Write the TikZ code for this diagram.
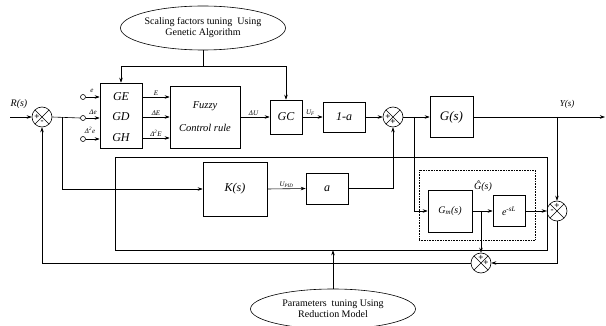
\documentclass[tikz,border=0pt]{standalone}
\usepackage{fontspec}
\setmainfont{Liberation Serif}
\usetikzlibrary{shapes.geometric,arrows.meta}
\begin{document}
\begin{tikzpicture}[x=1pt,y=-1pt,>={Stealth[length=5pt,width=3.5pt]},line width=0.6pt,
	block/.style={draw, inner sep=0pt, font=\itshape\fontsize{12}{14}\selectfont},
	sumj/.style={draw, circle, minimum size=20pt, inner sep=0pt,
		path picture={\draw[line width=0.5pt] (path picture bounding box.north west) -- (path picture bounding box.south east)
			(path picture bounding box.north east) -- (path picture bounding box.south west);}},
	sgn/.style={font=\bfseries\fontsize{9}{9}\selectfont, inner sep=0pt},
	tuner/.style={draw, ellipse, align=center, inner sep=0pt, font=\fontsize{10}{11}\selectfont},
	port/.style={draw, circle, minimum size=5pt, inner sep=0pt},
	lbl/.style={font=\itshape\fontsize{7}{8}\selectfont, inner sep=1pt}]
	\useasboundingbox (0,0) rectangle (606,326);
	
	\node[tuner, minimum width=165pt, minimum height=44pt] (ga) at (203,28) {Scaling factors tuning~ Using\\Genetic Algorithm};
	\node[tuner, minimum width=165pt, minimum height=40pt] (rm) at (333,309) {Parameters~ tuning Using\\Reduction Model};
	
	\node[sumj] (sumA) at (42,117) {};
	\node[sgn] (sa1) at ([xshift=-5pt]sumA.center) {+};
	\node[sgn] (sa2) at ([yshift=-5pt]sumA.center) {-};
	\coordinate (rin) at (10,117);
	\node[font=\itshape\fontsize{10}{11}\selectfont] (rl) at (19,104) {R(s)};
	
	\node[port] (pe) at (83,97) {};
	\node[port] (pd) at (83,118) {};
	\node[port] (ph) at (83,139) {};
	\node[lbl] (le) at (92,91) {e};
	\node[lbl] (ld) at (93,112) {Δe};
	\node[lbl] (lh) at (90,130) {Δ\textsuperscript{2}e};
	
	\node[block, minimum width=42pt, minimum height=65pt] (gains) at (121,115.5) {};
	\node[block, draw=none] (ge) at (121,97) {GE};
	\node[block, draw=none] (gd) at (121,117) {GD};
	\node[block, draw=none] (gh) at (121,138) {GH};
	
	\node[block, minimum width=70pt, minimum height=62pt, align=center, font=\itshape\fontsize{10.5}{12}\selectfont] (fuzzy) at (205,117) {Fuzzy\\[11pt]Control rule};
	\node[block, minimum width=32pt, minimum height=34pt] (gc) at (286,117) {GC};
	\node[block, minimum width=42pt, minimum height=30pt] (onema) at (344,117) {1-a};
	\node[sumj] (sumB) at (393,117) {};
	\node[sgn] (sb1) at ([xshift=-5pt]sumB.center) {+};
	\node[sgn] (sb2) at ([yshift=-5pt]sumB.center) {+};
	\node[block, minimum width=43pt, minimum height=41pt, font=\itshape\fontsize{13}{15}\selectfont] (gs) at (451.5,117) {G(s)};
	\coordinate (yout) at (605,117);
	\node[font=\itshape\fontsize{9}{10}\selectfont] (yl) at (567,104) {Y(s)};
	
	\node[block, minimum width=64pt, minimum height=54pt] (ks) at (235,189) {K(s)};
	\node[block, minimum width=42pt, minimum height=31pt] (ab) at (327,188.5) {a};
	
	% tuning frame and model
	\node[draw, minimum width=432pt, minimum height=93pt, inner sep=0pt] (tune) at (331,203.5) {};
	\node[draw, densely dotted, minimum width=116pt, minimum height=70pt, inner sep=0pt] (ghat) at (477,205) {};
	\node[font=\itshape\fontsize{10}{11}\selectfont] (ghl) at (483,186) {\^{G}(s)};
	\node[block, fill=white, minimum width=44pt, minimum height=42pt, font=\itshape\fontsize{10}{11}\selectfont] (gm) at (450,211) {G\textsubscript{m}(s)};
	\node[block, fill=white, minimum width=32pt, minimum height=31pt, font=\itshape\fontsize{10}{11}\selectfont] (edl) at (509,211) {e\textsuperscript{-sL}};
	\node[sumj] (sumC) at (557,211) {};
	\node[sgn] (sc1) at ([yshift=5pt]sumC.center) {+};
	\node[sgn] (sc2) at ([xshift=-5pt]sumC.center) {-};
	\node[sumj, fill=white] (sumD) at (481,263) {};
	\node[sgn] (sd1) at ([yshift=5pt]sumD.center) {+};
	\node[sgn] (sd2) at ([xshift=5pt]sumD.center) {+};
	
	% scaling factor tuning
	\draw (ga.south) -- ++(0,16) coordinate (gaj);
	\draw[->] (gaj) -| (gains.north);
	\draw[->] (gaj) -| (gc.north);
	
	% fuzzy path
	\draw[->] (rin) -- (sumA.west);
	\draw (sumA.east) -- (pd.west);
	\coordinate (b1) at (62,117);
	\draw[->] (b1) |- (ks.west);
	\draw[->] (pe.east) -- (gains.west |- pe);
	\draw[->] (pd.east) -- (gains.west |- pd);
	\draw[->] (ph.east) -- (gains.west |- ph);
	\draw[->] (gains.east |- ge) -- (fuzzy.west |- ge) node[lbl, midway, above] (lE) {E};
	\draw[->] (gains.east |- gd) -- (fuzzy.west |- gd) node[lbl, midway, above] (lDE) {ΔE};
	\draw[->] (gains.east |- gh) -- (fuzzy.west |- gh) node[lbl, midway, above] (lDDE) {Δ\textsuperscript{2}E};
	\draw[->] (fuzzy.east) -- (gc.west) node[lbl, pos=0.45, above] (lU) {ΔU};
	\draw[->] (gc.east) -- (onema.west) node[lbl, pos=0.4, above] (lUF) {U\textsubscript{F}};
	\draw[->] (onema.east) -- (sumB.west);
	\draw[->] (sumB.east) -- (gs.west);
	\draw[->] (gs.east) -- (yout);
	
	% pid path
	\draw[->] (ks.east) -- (ab.west) node[lbl, midway, above] (lPID) {U\textsubscript{PID}};
	\draw[->] (ab.east) -| (sumB.south);
	
	% model path
	\coordinate (b2) at (414,117);
	\draw[->] (b2) |- (gm.west);
	\draw[->] (gm.east) -- (edl.west);
	\coordinate (b3) at (481,211);
	\draw[->] (b3) -- (sumD.north);
	\draw[->] (edl.east) -- (sumC.west);
	\coordinate (yb) at (557,117);
	\draw[->] (yb) -- (sumC.north);
	\draw[->] (sumC.south) |- (sumD.east);
	\draw[->] (sumD.west) -| (sumA.south);
	
	\draw[->] (rm.north) -- (rm.north |- tune.south);
\end{tikzpicture}
\end{document}
